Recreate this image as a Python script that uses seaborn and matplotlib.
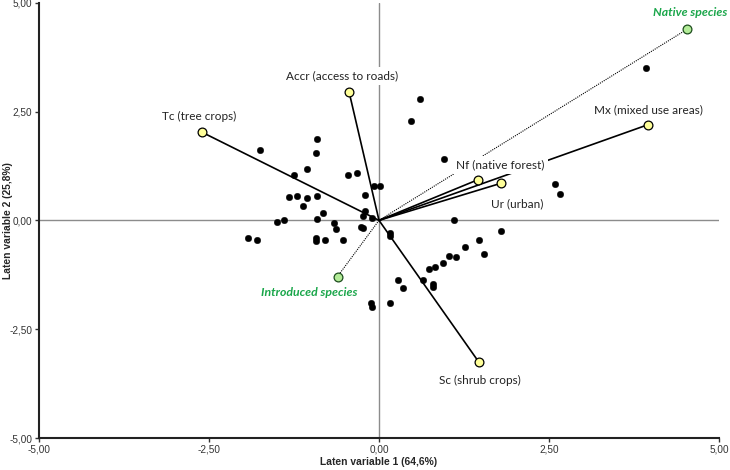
import matplotlib
matplotlib.use("Agg")
import matplotlib.pyplot as plt
import seaborn as sns
import pandas as pd
from matplotlib.ticker import FuncFormatter

# sample scores (black dots)
dot_x = [3.92, 0.61, 0.47, 0.95, 2.59, 2.66, -0.91, -0.92, -1.75, -1.06,
         -1.25, -0.46, -0.33, -0.08, 0.02, -0.21, -1.32, -1.21, -1.06, -0.91,
         -1.12, -0.83, -0.21, -0.24, -0.10, -1.39, -1.50, -0.91, -0.66, -0.63,
         -0.27, -0.24, 0.16, 0.16, -1.92, -1.79, -0.93, -0.92, -0.79, -0.53,
         1.11, 1.80, 1.47, 1.26, 1.55, 1.03, 1.13, 0.94, 0.83, 0.74,
         0.65, 0.28, 0.35, 0.79, 0.79, -0.12, -0.10, 0.16]
dot_y = [3.51, 2.78, 2.28, 1.42, 0.83, 0.60, 1.86, 1.54, 1.62, 1.19,
         1.04, 1.04, 1.09, 0.80, 0.80, 0.58, 0.53, 0.55, 0.51, 0.55,
         0.33, 0.18, 0.21, 0.11, 0.05, 0.01, -0.04, 0.03, -0.07, -0.19,
         -0.16, -0.18, -0.29, -0.36, -0.41, -0.45, -0.40, -0.47, -0.45, -0.45,
         0.01, -0.25, -0.45, -0.61, -0.77, -0.82, -0.85, -0.99, -1.07, -1.12,
         -1.38, -1.38, -1.56, -1.46, -1.54, -1.91, -1.99, -1.91]

# land use vectors
var_names = ["Mx (mixed use areas)", "Nf (native forest)", "Ur (urban)",
             "Accr (access to roads)", "Tc (tree crops)", "Sc (shrub crops)"]
var_x = [3.96, 1.45, 1.79, -0.44, -2.61, 1.47]
var_y = [2.20, 0.93, 0.85, 2.95, 2.03, -3.26]
var_offsets = [(0, 10.6), (16.5, 10.8), (11.5, -15), (-5, 11.5), (-2, 11.5), (0.7, -13)]

# species vectors
sp_names = ["Native species", "Introduced species"]
sp_x = [4.53, -0.61]
sp_y = [4.39, -1.29]
sp_offsets = [(2, 12), (-20, -11.5)]

ticks = [-5, -2.5, 0, 2.5, 5]

sns.set_style("white")
plt.rcParams['font.family'] = ['Liberation Sans Narrow', 'Liberation Sans', 'DejaVu Sans']

fig = plt.figure(figsize=(7.3, 4.7), dpi=100)
ax = fig.add_axes([39/730, 32/470, 680/730, 435.3/470])

ax.axhline(0, color="#8c8c8c", lw=1, zorder=1)
ax.axvline(0, color="#8c8c8c", lw=1, zorder=1)

dots = pd.DataFrame({"x": dot_x, "y": dot_y})
sns.scatterplot(data=dots, x="x", y="y", color="black", s=22, edgecolor="black",
                linewidth=0.3, ax=ax, zorder=3)

for x, y in zip(var_x, var_y):
    ax.plot([0, x], [0, y], color="black", lw=1.2, zorder=2)
for x, y in zip(sp_x, sp_y):
    ax.plot([0, x], [0, y], color="black", lw=0.8, ls=(0, (1, 1)), zorder=2)

ax.scatter(var_x, var_y, s=40, facecolor="#ffff99", edgecolor="black", lw=0.9, zorder=5)
ax.scatter(sp_x, sp_y, s=40, facecolor="#b3ec98", edgecolor="#1d4d1d", lw=0.9, zorder=5)

for name, x, y, off in zip(var_names, var_x, var_y, var_offsets):
    ax.annotate(name, (x, y), xytext=off, textcoords="offset points", ha="center",
                va="center", fontsize=8.5, family=["Lato", "DejaVu Sans"], color="#222222",
                bbox=dict(boxstyle="square,pad=0.3", fc="white", ec="none"), zorder=4)
for name, x, y, off in zip(sp_names, sp_x, sp_y, sp_offsets):
    ax.annotate(name, (x, y), xytext=off, textcoords="offset points", ha="center",
                va="center", fontsize=8.8, family=["Lato", "DejaVu Sans"], color="#1aa64a",
                fontweight="bold", fontstyle="italic", zorder=4)

ax.set_xlim(-5, 5)
ax.set_ylim(-5, 5)
ax.set_xticks(ticks)
ax.set_yticks(ticks)
fmt = FuncFormatter(lambda v, p: f"{v:.2f}".replace(".", ","))
ax.xaxis.set_major_formatter(fmt)
ax.yaxis.set_major_formatter(fmt)
ax.tick_params(axis="both", direction="out", length=3, width=1, labelsize=7.2,
               colors="#333333", pad=2, left=True, bottom=True)

sns.despine(ax=ax)
for s in ["left", "bottom"]:
    ax.spines[s].set_color("#222222")
    ax.spines[s].set_linewidth(1.5)

ax.set_xlabel("Laten variable 1 (64,6%)", fontsize=7.4, fontweight="bold")
ax.set_ylabel("Laten variable 2 (25,8%)", fontsize=7.4, fontweight="bold")
ax.xaxis.set_label_coords(0.5, -19/435.3)
ax.yaxis.set_label_coords(-26/680, 0.5)

fig.savefig("out.png", dpi=100)
